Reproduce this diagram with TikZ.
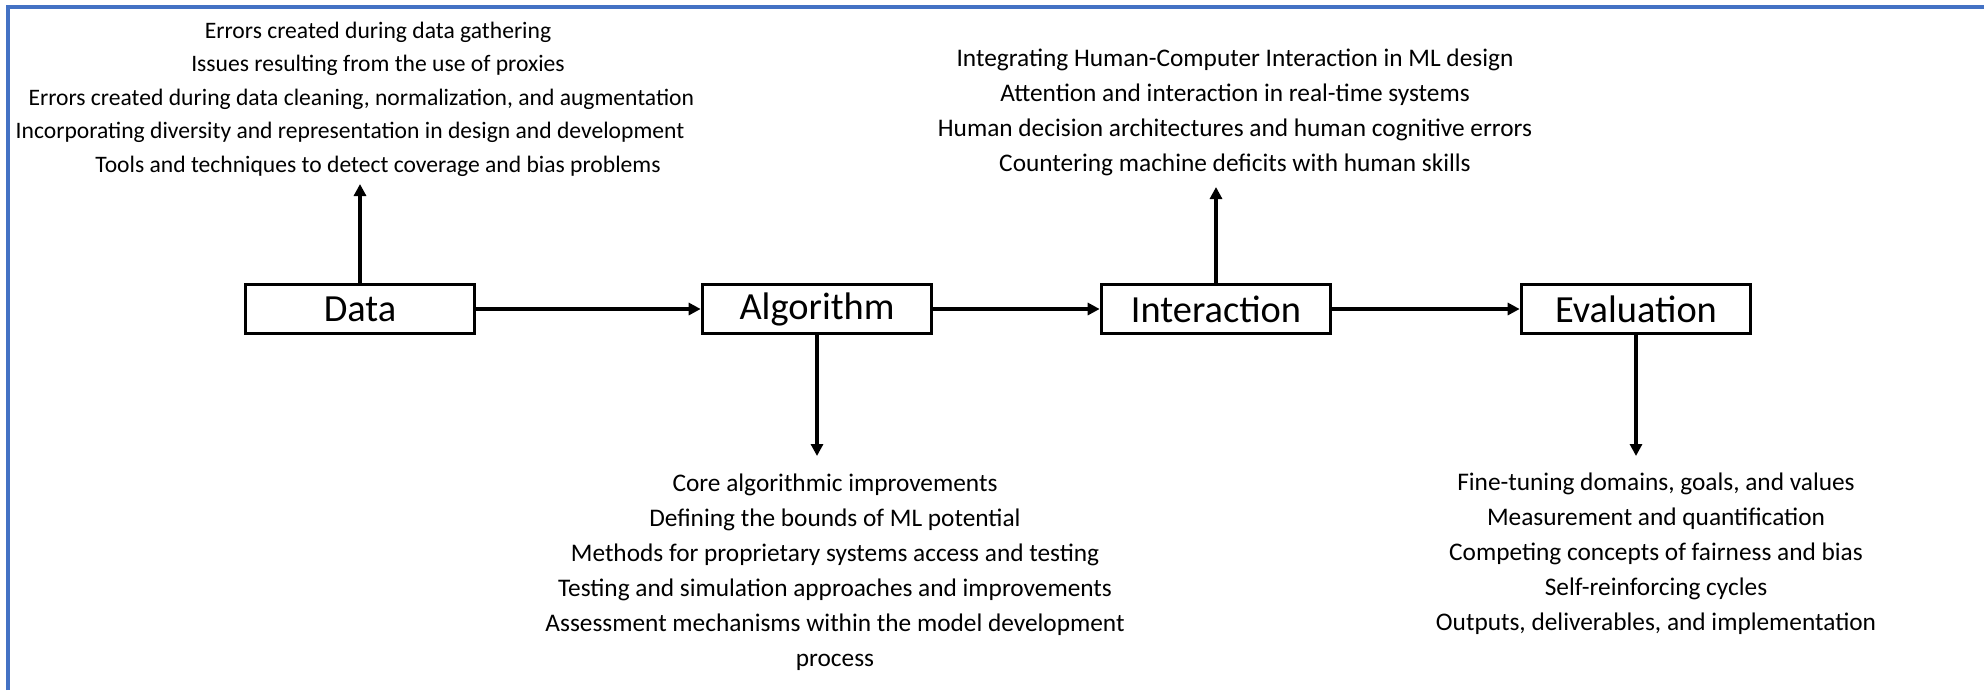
\documentclass[tikz,border=0pt]{standalone}
\usepackage{fontspec}
\setmainfont{Carlito}
\usetikzlibrary{arrows.meta}
\definecolor{frameblue}{HTML}{4472C4}
\begin{document}
\begin{tikzpicture}[x=0.75pt,y=-0.75pt,
  stagebox/.style={draw=black,line width=2.5pt,minimum width=172pt,minimum height=37pt,inner sep=0pt,font=\fontsize{28.8}{30}\selectfont},
  listtext/.style={align=center,inner sep=0pt,font=\fontsize{19}{26.2}\selectfont},
  smalllist/.style={align=center,inner sep=0pt,font=\fontsize{17.7}{25.1}\selectfont},
  flow/.style={line width=3pt,-{Triangle[length=9pt,width=9pt]}}]
\useasboundingbox (0,0) rectangle (1984,690);
\draw[frameblue,line width=3pt] (8,690) -- (8,7) -- (1984,7);
\node[stagebox] (data) at (360,309) {Data};
\node[stagebox] (algo) at (817,309) {Algorithm};
\node[stagebox] (inter) at (1216,309) {Interaction};
\node[stagebox] (eval) at (1636,309) {Evaluation};
\draw[flow] (data) -- (algo);
\draw[flow] (algo) -- (inter);
\draw[flow] (inter) -- (eval);
\coordinate (dtip) at (360,184);
\coordinate (itip) at (1216,187);
\coordinate (atip) at (817,456);
\coordinate (etip) at (1636,456);
\draw[flow] (data.north) -- (dtip);
\draw[flow] (inter.north) -- (itip);
\draw[flow] (algo.south) -- (atip);
\draw[flow] (eval.south) -- (etip);
\node[smalllist] (dlist) at (378,99) {Errors created during data gathering\\Issues resulting from the use of proxies\\Errors created during data cleaning, normalization, and augmentation\rule{25pt}{0pt}\\Incorporating diversity and representation in design and development\rule{42pt}{0pt}\\Tools and techniques to detect coverage and bias problems};
\node[listtext] (ilist) at (1235,112) {Integrating Human-Computer Interaction in ML design\\Attention and interaction in real-time systems\\Human decision architectures and human cognitive errors\\Countering machine deficits with human skills};
\node[listtext] (alist) at (835,572) {Core algorithmic improvements\\Defining the bounds of ML potential\\Methods for proprietary systems access and testing\\Testing and simulation approaches and improvements\\Assessment mechanisms within the model development\\process};
\node[listtext] (elist) at (1656,554) {Fine-tuning domains, goals, and values\\Measurement and quantification\\Competing concepts of fairness and bias\\Self-reinforcing cycles\\Outputs, deliverables, and implementation};
\end{tikzpicture}
\end{document}
